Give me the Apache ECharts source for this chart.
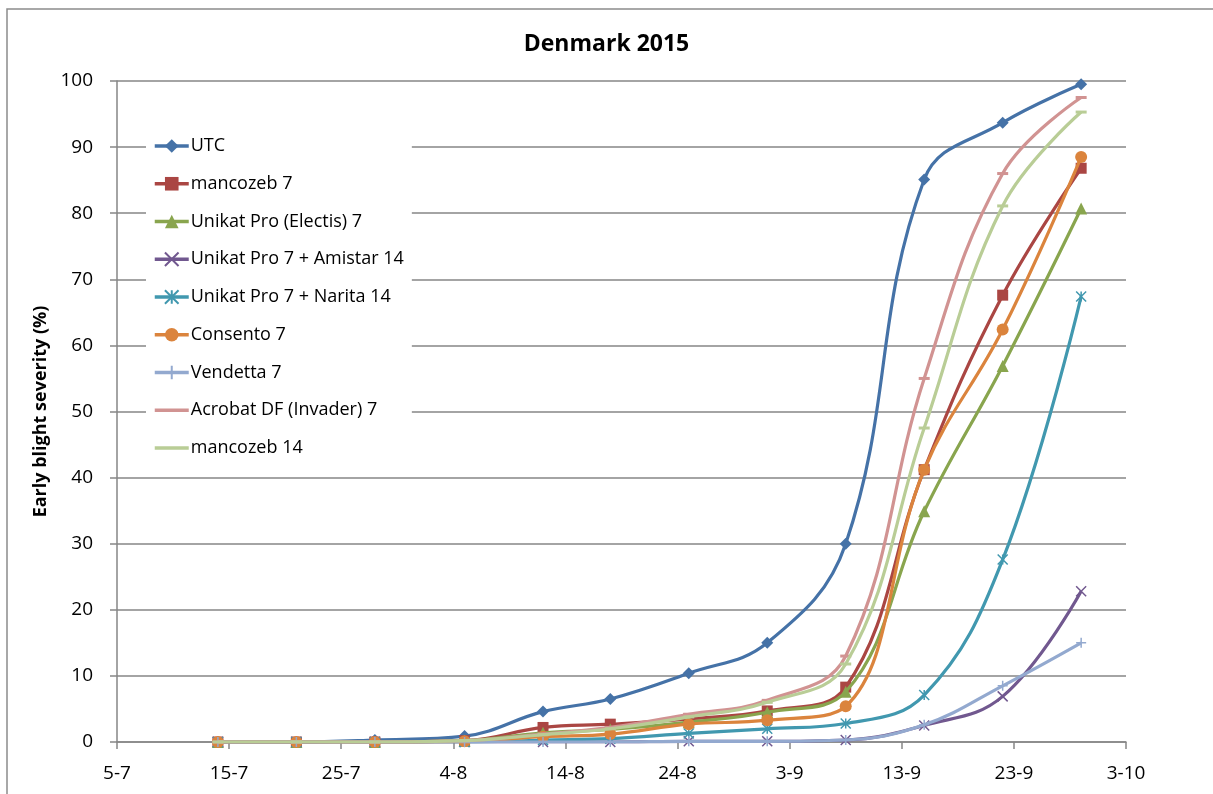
<!DOCTYPE html>
<html>
<head>
<meta charset="utf-8">
<script src="https://cdn.jsdelivr.net/npm/echarts@6/dist/echarts.min.js"></script>
<style>
html,body{margin:0;padding:0;background:#fff;}
#chart{width:1213px;height:794px;}
</style>
</head>
<body>
<div id="chart"></div>
<script>
// ---- data ----
const startDate = '2015-07-05';
const tickLabels = ['5-7','15-7','25-7','4-8','14-8','24-8','3-9','13-9','23-9','3-10'];
const dates = ['2015-07-14','2015-07-21','2015-07-28','2015-08-05','2015-08-12','2015-08-18','2015-08-25','2015-09-01','2015-09-08','2015-09-15','2015-09-22','2015-09-29'];
const seriesNames = ['UTC','mancozeb 7','Unikat Pro (Electis) 7','Unikat Pro 7 + Amistar 14','Unikat Pro 7 + Narita 14','Consento 7','Vendetta 7','Acrobat DF (Invader) 7','mancozeb 14'];
const utc        = [0, 0, 0.3, 0.9, 4.6, 6.5, 10.4, 15.0, 30.0, 85.1, 93.7, 99.5];
const mancozeb7  = [0, 0, 0, 0.2, 2.2, 2.7, 3.5, 4.7, 8.3, 41.2, 67.6, 86.8];
const electis7   = [0, 0, 0, 0.2, 1.4, 1.9, 3.0, 4.5, 7.6, 34.9, 56.9, 80.7];
const amistar14  = [0, 0, 0, 0, 0, 0, 0.1, 0.1, 0.3, 2.5, 6.9, 22.8];
const narita14   = [0, 0, 0, 0, 0.3, 0.5, 1.3, 2.0, 2.8, 7.1, 27.6, 67.4];
const consento7  = [0, 0, 0, 0.1, 0.8, 1.2, 2.7, 3.3, 5.4, 41.2, 62.4, 88.5];
const vendetta7  = [0, 0, 0, 0, 0, 0, 0.1, 0.1, 0.3, 2.6, 8.5, 15.0];
const acrobat7   = [0, 0, 0, 0.2, 1.2, 2.2, 4.2, 6.3, 13.0, 55.0, 86.0, 97.5];
const mancozeb14 = [0, 0, 0, 0.2, 1.1, 2.0, 3.8, 6.0, 11.8, 47.5, 81.1, 95.3];

// ---- styling ----
const allValues = [utc, mancozeb7, electis7, amistar14, narita14, consento7, vendetta7, acrobat7, mancozeb14];
const colors = ['#4572A7','#AA4643','#89A54E','#71588F','#4198AF','#DB843D','#93A9CF','#D19392','#B9CD96'];
const symbols = [
  'diamond','rect','triangle',
  'path://M0,0 L10,10 M10,0 L0,10',
  'path://M0,0 L10,10 M10,0 L0,10 M5,0 L5,10',
  'circle',
  'path://M5,0 L5,10 M0,5 L10,5',
  'path://M0,0 L10,0 L10,2 L0,2 Z',
  'path://M0,0 L10,0 L10,2 L0,2 Z'
];
const symbolSizes = [12, 11, 12, 10, 10, 12, 10, [11,3], [11,3]];
const strokeSymbol = [false,false,false,true,true,false,true,false,false];
const hideLegendSymbol = [false,false,false,false,false,false,false,true,true];

const DAY = 86400000;
const t0 = new Date(startDate + 'T00:00:00Z').getTime();
const xs = dates.map(d => Math.round((new Date(d + 'T00:00:00Z').getTime() - t0) / DAY));

const FONT = 'Open Sans';
const series = seriesNames.map((name, i) => ({
  name: name,
  type: 'line',
  smooth: 0.4,
  data: xs.map((x, k) => [x, allValues[i][k]]),
  symbol: symbols[i],
  symbolSize: symbolSizes[i],
  showAllSymbol: true,
  lineStyle: { width: 3.2, color: colors[i] },
  itemStyle: strokeSymbol[i]
    ? { color: colors[i], borderColor: colors[i], borderWidth: 1.5 }
    : { color: colors[i], borderWidth: 0 },
  emphasis: { disabled: true },
  z: 2 + i
}));

const chart = echarts.init(document.getElementById('chart'), null, { renderer: 'canvas' });
chart.setOption({
  animation: false,
  backgroundColor: '#fff',
  textStyle: { fontFamily: FONT },
  title: {
    text: 'Denmark 2015',
    left: 'center',
    top: 28,
    textStyle: { fontFamily: FONT, fontSize: 23, fontWeight: 'bold', color: '#000' }
  },
  grid: { left: 117, right: 87, top: 81, bottom: 52, containLabel: false },
  legend: {
    orient: 'vertical',
    left: 146,
    top: 129,
    itemWidth: 34,
    itemHeight: 17,
    itemGap: 19.75,
    padding: [8, 8, 8, 7],
    backgroundColor: '#fff',
    lineStyle: { width: 3.5 },
    textStyle: { fontFamily: FONT, fontSize: 18, lineHeight: 18, color: '#000', padding: [0, 0, 0, -3] },
    data: seriesNames.map((n, i) => hideLegendSymbol[i]
      ? { name: n, itemStyle: { opacity: 0 } }
      : { name: n })
  },
  xAxis: {
    type: 'value',
    min: 0,
    max: 90,
    interval: 10,
    axisLine: { show: true, lineStyle: { color: '#868686', width: 1.5 } },
    axisTick: { show: true, length: 7, lineStyle: { color: '#868686', width: 1.5 } },
    splitLine: { show: false },
    axisLabel: {
      color: '#000', fontSize: 19, fontFamily: FONT, margin: 22,
      formatter: function (v) { return tickLabels[Math.round(v / 10)]; }
    }
  },
  yAxis: {
    type: 'value',
    min: 0,
    max: 100,
    interval: 10,
    name: 'Early blight severity (%)',
    nameLocation: 'middle',
    nameRotate: 90,
    nameGap: 63,
    nameTextStyle: { fontFamily: FONT, fontSize: 18, fontWeight: 'bold', color: '#000' },
    axisLine: { show: true, lineStyle: { color: '#868686', width: 1.5 } },
    axisTick: { show: true, length: 7, lineStyle: { color: '#868686', width: 1.5 } },
    splitLine: { show: true, lineStyle: { color: '#868686', width: 1.5 } },
    axisLabel: { color: '#000', fontSize: 19, fontFamily: FONT, margin: 24 }
  },
  graphic: [{
    type: 'rect',
    shape: { x: 7, y: 9, width: 1240, height: 820 },
    style: { fill: 'none', stroke: '#8c8c8c', lineWidth: 1.5 },
    silent: true,
    z: -10
  }],
  series: series
});
</script>
</body>
</html>
